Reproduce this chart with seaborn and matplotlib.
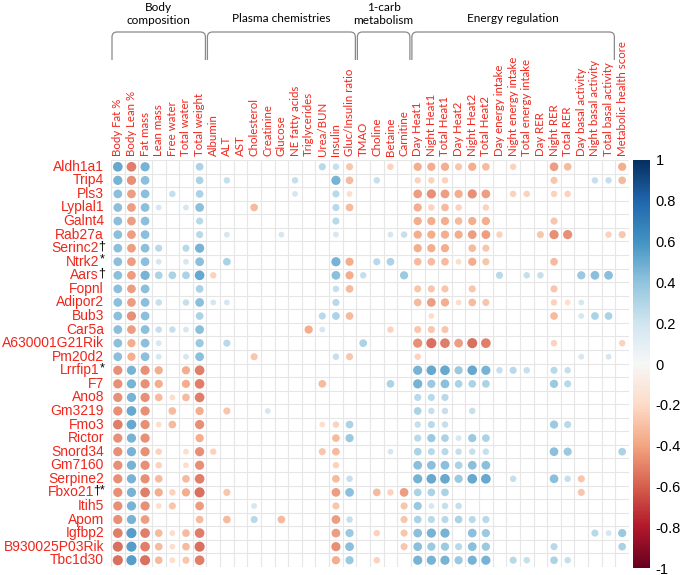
import numpy as np
import pandas as pd
import matplotlib
matplotlib.use("Agg")
import matplotlib.pyplot as plt
import matplotlib.transforms as mtransforms
from matplotlib.path import Path
from matplotlib.patches import PathPatch
from matplotlib.cm import ScalarMappable
from matplotlib.colors import Normalize
import seaborn as sns

# ---------------- data ----------------
genes = ["Aldh1a1", "Trip4", "Pls3", "Lyplal1", "Galnt4", "Rab27a", "Serinc2", "Ntrk2",
         "Aars", "Fopnl", "Adipor2", "Bub3", "Car5a", "A630001G21Rik", "Pm20d2", "Lrrfip1",
         "F7", "Ano8", "Gm3219", "Fmo3", "Rictor", "Snord34", "Gm7160", "Serpine2", "Fbxo21",
         "Itih5", "Apom", "Igfbp2", "B930025P03Rik", "Tbc1d30"]
marks = ["", "", "", "", "", "", "\u2020", "*", "\u2020", "", "", "", "", "", "", "*",
         "", "", "", "", "", "", "", "", "\u2020*", "", "", "", "", ""]
traits = ["Body Fat %", "Body Lean %", "Fat mass", "Lean mass", "Free water", "Total water",
          "Total weight", "Albumin", "ALT", "AST", "Cholesterol", "Creatinine", "Glucose",
          "NE fatty acids", "Triglycerides", "Urea/BUN", "Insulin", "Gluc/Insulin ratio",
          "TMAO", "Choline", "Betaine", "Carnitine", "Day Heat1", "Night Heat1", "Total Heat1",
          "Day Heat2", "Night Heat2", "Total Heat2", "Day energy intake", "Night energy intake",
          "Total energy intake", "Day RER", "Night RER", "Total RER", "Day basal activity",
          "Night basal activity", "Total basal activity", "Metabolic health score"]
group_names = ["Body\ncomposition", "Plasma chemistries", "1-carb\nmetabolism", "Energy regulation"]
group_first = [0, 7, 18, 22]
group_last = [6, 17, 21, 36]
cbar_ticks = [1, 0.8, 0.6, 0.4, 0.2, 0, -0.2, -0.4, -0.6, -0.8, -1]

# correlations per gene: {trait index: r}
r_Aldh1a1 = {0: .55, 1: -.55, 2: .5, 6: .35, 15: .3, 16: .25, 17: -.3, 20: -.25, 22: -.4, 23: -.4, 24: -.4,
             25: -.3, 26: -.4, 27: -.35, 29: -.25, 32: -.45, 33: -.35, 37: -.4}
r_Trip4 = {0: .5, 1: -.5, 2: .45, 6: .35, 8: .25, 13: .25, 16: .5, 17: -.35, 19: .25, 22: -.25, 23: -.25,
           24: -.25, 32: -.3, 35: .25, 36: .25, 37: -.35}
r_Pls3 = {0: .45, 1: -.45, 2: .45, 4: .25, 6: .35, 13: .2, 16: .3, 17: -.2, 22: -.45, 23: -.5, 24: -.45,
          25: -.4, 26: -.5, 27: -.45, 29: -.25, 30: -.25, 32: -.25, 33: -.25}
r_Lyplal1 = {0: .45, 1: -.45, 2: .45, 3: .2, 5: .2, 6: .45, 10: -.35, 16: .3, 17: -.35, 22: -.4, 23: -.25,
             24: -.35, 25: -.25, 27: -.25}
r_Galnt4 = {0: .45, 1: -.45, 2: .45, 6: .3, 16: .3, 22: -.4, 23: -.4, 24: -.4, 25: -.35, 26: -.4, 27: -.4,
            32: -.3}
r_Rab27a = {0: .45, 1: -.45, 2: .45, 6: .3, 8: .2, 12: .2, 16: .2, 20: .2, 21: .25, 22: -.4, 23: -.4, 24: -.4,
            25: -.4, 26: -.45, 27: -.45, 28: -.25, 31: -.3, 32: -.5, 33: -.5, 36: -.25, 37: -.3}
r_Serinc2 = {0: .45, 1: -.45, 2: .45, 3: .3, 5: .3, 6: .5, 22: -.4, 23: -.4, 24: -.4, 26: -.35, 27: -.3}
r_Ntrk2 = {0: .45, 1: -.45, 2: .45, 3: .2, 5: .2, 6: .45, 8: .35, 16: .5, 17: -.4, 19: .3, 20: .35, 22: -.35,
           23: -.35, 24: -.35, 25: -.2, 26: -.4, 27: -.3, 32: -.35}
r_Aars = {0: .45, 1: -.45, 2: .5, 3: .35, 4: .35, 5: .35, 6: .55, 7: -.25, 16: .45, 17: -.4, 18: .25,
          21: .4, 28: .3, 30: .25, 31: .25, 34: .4, 35: .45, 36: .45}
r_Fopnl = {0: .45, 1: -.45, 2: .45, 6: .35, 16: .25, 17: -.35, 22: -.3, 23: -.3, 24: -.3, 26: -.3, 32: -.3}
r_Adipor2 = {0: .45, 1: -.45, 2: .45, 3: .25, 5: .25, 6: .45, 7: .2, 8: .2, 16: .3, 22: -.35, 23: -.45,
             24: -.4, 25: -.2, 26: -.35, 27: -.3, 32: -.25, 33: -.2, 34: .2}
r_Bub3 = {0: .45, 1: -.5, 2: .45, 6: .35, 15: .3, 16: .35, 17: -.35, 23: -.2, 32: -.35, 34: .2, 35: .35,
          36: .35}
r_Car5a = {0: .45, 1: -.45, 2: .45, 3: .25, 4: .25, 5: .2, 6: .45, 14: -.4, 15: .2, 20: -.25, 22: -.3, 23: -.3,
           24: -.3}
r_A630001G21Rik = {0: .45, 1: -.4, 2: .45, 3: .2, 6: .4, 8: .3, 18: .35, 22: -.5, 23: -.6, 24: -.55,
                   25: -.45, 26: -.6, 27: -.55, 32: -.25, 37: -.25}
r_Pm20d2 = {0: .45, 1: -.4, 2: .45, 3: .2, 5: .2, 6: .45, 10: -.3, 16: .25, 17: -.3, 22: -.25, 34: .2,
            36: .2}
r_Lrrfip1 = {0: -.5, 1: .5, 2: -.5, 3: -.4, 5: -.4, 6: -.55, 22: .5, 23: .55, 24: .55, 25: .4, 26: .55,
             27: .5, 28: .25, 29: .3, 30: .25, 32: .3, 33: .25}
r_F7 = {0: -.5, 1: .5, 2: -.5, 3: -.4, 5: -.4, 6: -.55, 15: -.35, 20: .35, 22: .5, 23: .4, 24: .45,
        25: .35, 26: .35, 27: .35, 32: .4, 33: .3}
r_Ano8 = {0: -.5, 1: .5, 2: -.5, 3: -.35, 4: -.2, 5: -.35, 6: -.55, 22: .3, 23: .3, 24: .3}
r_Gm3219 = {0: -.5, 1: .55, 2: -.5, 4: -.35, 6: -.4, 8: -.3, 11: .2, 22: .35, 23: .25, 24: .25, 26: .25}
r_Fmo3 = {0: -.55, 1: .55, 2: -.5, 3: -.2, 4: -.35, 6: -.5, 15: -.2, 16: -.25, 17: .35, 22: .25, 23: .3,
          24: .25, 32: .4, 33: .3}
r_Rictor = {0: -.5, 1: .5, 2: -.5, 6: -.4, 16: -.35, 17: .4, 22: .3, 23: .4, 24: .35, 25: .2, 26: .4,
            27: .35}
r_Snord34 = {0: -.5, 1: .5, 2: -.5, 3: -.25, 5: -.2, 6: -.5, 7: -.25, 15: -.3, 16: -.35, 20: .2, 22: .35,
             23: .3, 24: .3, 25: .25, 26: .25, 27: .25, 32: .45, 33: .4, 37: .35}
r_Gm7160 = {0: -.5, 1: .5, 2: -.5, 3: -.25, 5: -.2, 6: -.5, 16: -.25, 22: .45, 23: .45, 24: .45, 25: .35,
            26: .45, 27: .45}
r_Serpine2 = {0: -.5, 1: .5, 2: -.5, 3: -.35, 5: -.35, 6: -.55, 16: -.35, 17: .25, 22: .5, 23: .55,
              24: .55, 25: .4, 26: .55, 27: .55, 29: .25, 32: .45, 33: .25, 34: -.3}
r_Fbxo21 = {0: -.5, 1: .5, 2: -.55, 3: -.4, 4: -.25, 5: -.4, 6: -.6, 8: -.3, 16: -.45, 17: .45,
            19: -.35, 20: -.25, 21: -.45, 22: .35, 23: .35, 24: .35, 34: -.3}
r_Itih5 = {0: -.5, 1: .5, 2: -.5, 3: -.2, 4: -.3, 6: -.45, 10: .2, 16: -.3, 21: -.3, 22: .4, 23: .2,
           24: .25, 25: .25}
r_Apom = {0: -.5, 1: .5, 2: -.45, 6: -.35, 8: -.35, 10: .3, 12: -.35, 16: -.45, 17: .25, 21: -.3, 22: .35,
          23: .3, 24: .3, 25: .35, 26: .3, 27: .3}
r_Igfbp2 = {0: -.55, 1: .6, 2: -.55, 3: -.35, 4: -.2, 5: -.35, 6: -.55, 16: -.45, 17: .4, 19: -.25,
            21: -.3, 22: .45, 23: .5, 24: .5, 26: .45, 27: .4, 35: .3, 36: .2, 37: .4}
r_B930025P03Rik = {0: -.6, 1: .6, 2: -.55, 3: -.35, 4: -.2, 5: -.35, 6: -.6, 16: -.5, 17: .45, 21: -.3,
                   22: .45, 23: .4, 24: .4, 25: .3, 26: .45, 27: .4, 32: .3, 37: .35}
r_Tbc1d30 = {0: -.6, 1: .6, 2: -.6, 3: -.35, 4: -.2, 5: -.3, 6: -.55, 16: -.4, 17: .4, 19: -.25,
             22: .5, 23: .5, 24: .5, 25: .4, 26: .5, 27: .5, 29: .3, 30: .25, 32: .35, 33: .25}

gene_rows = [r_Aldh1a1, r_Trip4, r_Pls3, r_Lyplal1, r_Galnt4, r_Rab27a, r_Serinc2, r_Ntrk2, r_Aars,
             r_Fopnl, r_Adipor2, r_Bub3, r_Car5a, r_A630001G21Rik, r_Pm20d2, r_Lrrfip1, r_F7, r_Ano8,
             r_Gm3219, r_Fmo3, r_Rictor, r_Snord34, r_Gm7160, r_Serpine2, r_Fbxo21, r_Itih5, r_Apom,
             r_Igfbp2, r_B930025P03Rik, r_Tbc1d30]

recs = []
for gi, d in enumerate(gene_rows):
    for ti, v in d.items():
        recs.append({"gene": gi, "trait": ti, "r": v, "absr": abs(v)})
df = pd.DataFrame(recs)

# ---------------- figure ----------------
W, H = 685, 575
RED = "#f0261c"
fig = plt.figure(figsize=(W / 100, H / 100), dpi=100)

def fx(x):
    return x / W

def fy(y):
    return 1 - y / H

gx0, gx1, gy0, gy1 = 111, 629, 160, 567
ax = fig.add_axes([fx(gx0), fy(gy1), fx(gx1) - fx(gx0), fy(gy0) - fy(gy1)])

sns.scatterplot(data=df, x="trait", y="gene", hue="r", palette="RdBu", hue_norm=(-1, 1),
                size="absr", sizes=(0, 88), size_norm=(0, 1), linewidth=0, alpha=0.9,
                legend=False, ax=ax, zorder=3)

nT, nG = len(traits), len(genes)
ax.set_xlim(-0.5, nT - 0.5)
ax.set_ylim(nG - 0.5, -0.5)
gridc = "#e6e6e6"
for i in range(nT + 1):
    ax.axvline(i - 0.5, color=gridc, lw=0.8, zorder=1)
for j in range(nG + 1):
    ax.axhline(j - 0.5, color=gridc, lw=0.8, zorder=1)
for s in ax.spines.values():
    s.set_visible(False)
ax.set_xlabel("")
ax.set_ylabel("")

# column labels on top
ax.xaxis.tick_top()
ax.set_xticks(range(nT))
ax.set_xticklabels(traits, rotation=90, color=RED, fontsize=8.3, family="Lato")
ax.tick_params(axis="x", length=0, pad=3)
ax.set_yticks([])

# row labels (red name + black mark)
fig.canvas.draw()
renderer = fig.canvas.get_renderer()
trans = mtransforms.blended_transform_factory(ax.transAxes, ax.transData)
for gi, (g, m) in enumerate(zip(genes, marks)):
    off = 0
    if m:
        t = ax.annotate(m, xy=(0, gi), xycoords=trans, xytext=(-6, 2), textcoords="offset pixels",
                        ha="right", va="center", color="black", fontsize=9, family="Liberation Sans")
        off = 5 * len(m)
    ax.annotate(g, xy=(0, gi), xycoords=trans, xytext=(-7 - off, 0), textcoords="offset pixels",
                ha="right", va="center", color=RED, fontsize=10, family="Liberation Sans")

# group brackets and titles
col_w = (gx1 - gx0) / nT
btop, bbot, rad = 32, 60, 5
for name, a, b in zip(group_names, group_first, group_last):
    x0 = gx0 + a * col_w + 1
    x1 = gx0 + (b + 1) * col_w - 1
    verts = [(x0, bbot), (x0, btop + rad), (x0, btop), (x0 + rad, btop), (x1 - rad, btop),
             (x1, btop), (x1, btop + rad), (x1, bbot)]
    codes = [Path.MOVETO, Path.LINETO, Path.CURVE3, Path.CURVE3, Path.LINETO, Path.CURVE3,
             Path.CURVE3, Path.LINETO]
    verts_f = [(fx(x), fy(y)) for x, y in verts]
    fig.add_artist(PathPatch(Path(verts_f, codes), transform=fig.transFigure, fill=False,
                             edgecolor="#8a8a8a", lw=0.9))
    xc = (x0 + x1) / 2
    if "\n" in name:
        fig.text(fx(xc), fy(14), name, ha="center", va="center", fontsize=8.5, family="Lato",
                 color="black", linespacing=1.25)
    else:
        fig.text(fx(xc), fy(18), name, ha="center", va="center", fontsize=8.5, family="Lato",
                 color="black")

# colorbar
cax = fig.add_axes([fx(633), fy(568), fx(650) - fx(633), fy(160) - fy(568)])
sm = ScalarMappable(norm=Normalize(-1, 1), cmap="RdBu")
cb = fig.colorbar(sm, cax=cax)
cb.outline.set_visible(False)
cb.set_ticks(cbar_ticks)
cb.set_ticklabels([("%g" % v) for v in cbar_ticks])
cax.tick_params(length=0, pad=4, labelsize=10.5)
for lab in cax.get_yticklabels():
    lab.set_family("Liberation Sans")

fig.savefig("out.png", dpi=100)
